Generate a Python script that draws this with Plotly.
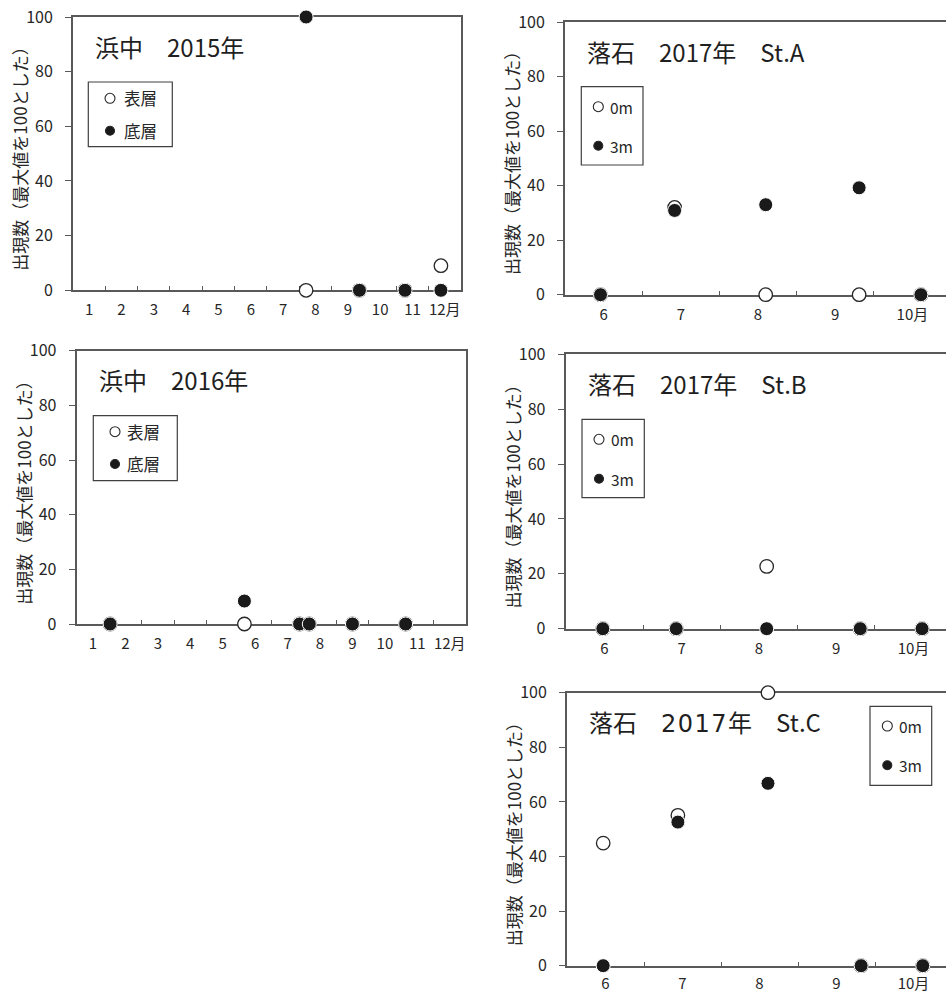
import plotly.graph_objects as go

# ---- data: relative abundance (max = 100), x = months since 1 Jan ----
months_hamanaka_2015 = [7.21, 8.86, 10.27, 11.38]
hamanaka_2015_surface = [0, 0, 0, 9]
hamanaka_2015_bottom = [100, 0, 0, 0]

months_hamanaka_2016 = [1.03, 5.17, 6.87, 7.17, 8.50, 10.14]
hamanaka_2016_surface = [0, 0, 0, 0, 0, 0]
hamanaka_2016_bottom = [0, 8.4, 0, 0, 0, 0]

months_ochiishi_a = [5.46, 6.42, 7.60, 8.81, 9.61]
ochiishi_a_0m = [0, 32.0, 0, 0, 0]
ochiishi_a_3m = [0, 30.9, 33.0, 39.2, 0]

months_ochiishi_b = [5.48, 6.43, 7.60, 8.81, 9.61]
ochiishi_b_0m = [0, 0, 22.7, 0, 0]
ochiishi_b_3m = [0, 0, 0, 0, 0]

months_ochiishi_c = [5.47, 6.44, 7.61, 8.82, 9.62]
ochiishi_c_0m = [44.9, 55.1, 100, 0, 0]
ochiishi_c_3m = [0, 52.6, 66.8, 0, 0]

year_tick_labels = ["1", "2", "3", "4", "5", "6", "7", "8", "9", "10", "11", "12月"]
season_tick_labels = ["6", "7", "8", "9", "10月"]
y_ticks = [0, 20, 40, 60, 80, 100]
y_title = "出現数（最大値を100とした）"

W, H = 946, 992
FONT = "Noto Sans CJK JP"
AXIS = "#595959"
INK = "#262626"


def fx(x):
    return x / W


def fy(y):
    return 1 - y / H


# panel geometry in pixels: left edge, width of one month, top (=100), bottom (=0), first month offset
panels = [
    dict(title="浜中　2015年", x=months_hamanaka_2015, a=hamanaka_2015_surface, b=hamanaka_2015_bottom,
         names=("表層", "底層"), left=73, step=32.33, top=17, bottom=290.3, m0=0, labels=year_tick_labels,
         right_closed=True, title_xy=(92.7, 46.7), ytitle_x=20, xstand=5,
         legend=dict(box=(88.3, 82, 172.3, 146.7), mx=110, tx=121.7, ys=(98.3, 130.7), fs=16.5)),
    dict(title="落石　2017年　St.A", x=months_ochiishi_a, a=ochiishi_a_0m, b=ochiishi_a_3m,
         names=("0m", "3m"), left=565, step=77.2, top=22, bottom=294.7, m0=5, labels=season_tick_labels,
         right_closed=False, title_xy=(585, 51.7), ytitle_x=511.7, xstand=5,
         legend=dict(box=(581.3, 86.7, 643, 165), mx=598.3, tx=608.3, ys=(106.7, 145.7), fs=15.5)),
    dict(title="浜中　2016年", x=months_hamanaka_2016, a=hamanaka_2016_surface, b=hamanaka_2016_bottom,
         names=("表層", "底層"), left=76.7, step=32.44, top=350.7, bottom=624, m0=0, labels=year_tick_labels,
         right_closed=True, title_xy=(97.3, 379.3), ytitle_x=23.3, xstand=5,
         legend=dict(box=(93.3, 415.7, 177.3, 480.7), mx=115, tx=125.3, ys=(431.7, 464), fs=16.5)),
    dict(title="落石　2017年　St.B", x=months_ochiishi_b, a=ochiishi_b_0m, b=ochiishi_b_3m,
         names=("0m", "3m"), left=565.7, step=77.3, top=354.3, bottom=628.7, m0=5, labels=season_tick_labels,
         right_closed=False, title_xy=(586, 383.3), ytitle_x=512, xstand=5,
         legend=dict(box=(582, 419.3, 644.3, 497.7), mx=599, tx=609.3, ys=(439.3, 478.7), fs=15.5)),
    dict(title="落石　<span style=\"font-family:DejaVu Sans;letter-spacing:1.5px\">2017</span>年　St.C",
         x=months_ochiishi_c, a=ochiishi_c_0m, b=ochiishi_c_3m,
         names=("0m", "3m"), left=567, step=77.0, top=692.7, bottom=965.7, m0=5, labels=season_tick_labels,
         right_closed=False, title_xy=(587, 721.7), ytitle_x=513, xstand=3,
         legend=dict(box=(870, 706.3, 931.7, 785.3), mx=887.3, tx=897.3, ys=(726, 765.3), fs=15.5)),
]

fig = go.Figure()
layout = dict(width=W, height=H, margin=dict(l=0, r=0, t=0, b=0, autoexpand=False), showlegend=False,
              plot_bgcolor="white", paper_bgcolor="white", font=dict(family=FONT, color=INK))
shapes, annotations = [], []

for i, p in enumerate(panels, start=1):
    n = len(p["labels"])
    right_px = p["left"] + p["step"] * n if p["right_closed"] else W
    x_max = p["m0"] + (right_px - p["left"]) / p["step"]
    xa = "x" if i == 1 else f"x{i}"
    ya = "y" if i == 1 else f"y{i}"

    fig.add_trace(go.Scatter(
        x=p["x"], y=p["a"], mode="markers", name=p["names"][0], xaxis=xa, yaxis=ya, cliponaxis=False,
        marker=dict(size=13.5, color="white", line=dict(color=INK, width=1.3))))
    fig.add_trace(go.Scatter(
        x=p["x"], y=p["b"], mode="markers", name=p["names"][1], xaxis=xa, yaxis=ya, cliponaxis=False,
        marker=dict(size=14, color="#1a1a1a", line=dict(color="white", width=1))))

    layout["xaxis" if i == 1 else f"xaxis{i}"] = dict(
        domain=[fx(p["left"]), fx(right_px)], anchor=ya, range=[p["m0"], x_max], automargin=False,
        tickmode="array", tickvals=[p["m0"] + k + 0.5 for k in range(n)], ticktext=p["labels"],
        ticks="", ticklabelstandoff=p["xstand"], tickfont=dict(size=15, color=INK),
        minor=dict(tickmode="array", tickvals=[p["m0"] + k for k in range(1, n)], ticks="inside",
                   ticklen=4, tickwidth=1.3, tickcolor=AXIS, showgrid=False),
        showline=True, linecolor=AXIS, linewidth=2, mirror=True, showgrid=False, zeroline=False,
        fixedrange=True, layer="below traces")
    layout["yaxis" if i == 1 else f"yaxis{i}"] = dict(
        domain=[fy(p["bottom"]), fy(p["top"])], anchor=xa, range=[0, 100], automargin=False,
        tickmode="array", tickvals=y_ticks, ticks="outside", ticklen=6, tickwidth=1.3, tickcolor=AXIS,
        ticklabelstandoff=9, tickfont=dict(size=16, color=INK),
        showline=True, linecolor=AXIS, linewidth=2, mirror=p["right_closed"], showgrid=False,
        zeroline=False, fixedrange=True, layer="below traces")

    # panel heading
    tx, ty = p["title_xy"]
    annotations.append(dict(text=p["title"], x=fx(tx), y=fy(ty), xref="paper", yref="paper",
                            xanchor="left", yanchor="middle", showarrow=False,
                            font=dict(size=24, color="#1f1f1f")))
    # y-axis title
    annotations.append(dict(text=y_title, x=fx(p["ytitle_x"]), y=fy((p["top"] + p["bottom"]) / 2 + 1),
                            xref="paper", yref="paper", xanchor="center", yanchor="middle",
                            textangle=-90, showarrow=False, font=dict(size=17, color=INK)))

    # boxed key
    lg = p["legend"]
    bx0, by0, bx1, by1 = lg["box"]
    shapes.append(dict(type="rect", xref="paper", yref="paper", x0=fx(bx0), x1=fx(bx1),
                       y0=fy(by1), y1=fy(by0), line=dict(color="#404040", width=1.2),
                       fillcolor="white", layer="above"))
    for j, (name, yy) in enumerate(zip(p["names"], lg["ys"])):
        r = 5 if j == 0 else 4.5
        shapes.append(dict(type="circle", xref="paper", yref="paper",
                           x0=fx(lg["mx"] - r), x1=fx(lg["mx"] + r), y0=fy(yy + r), y1=fy(yy - r),
                           line=dict(color=INK, width=1.1),
                           fillcolor="white" if j == 0 else "#1a1a1a", layer="above"))
        annotations.append(dict(text=name, x=fx(lg["tx"]), y=fy(yy), xref="paper", yref="paper",
                                xanchor="left", yanchor="middle", showarrow=False,
                                font=dict(size=lg["fs"], color=INK)))

layout["shapes"] = shapes
layout["annotations"] = annotations
fig.update_layout(**layout)
fig.write_html("out.html")
